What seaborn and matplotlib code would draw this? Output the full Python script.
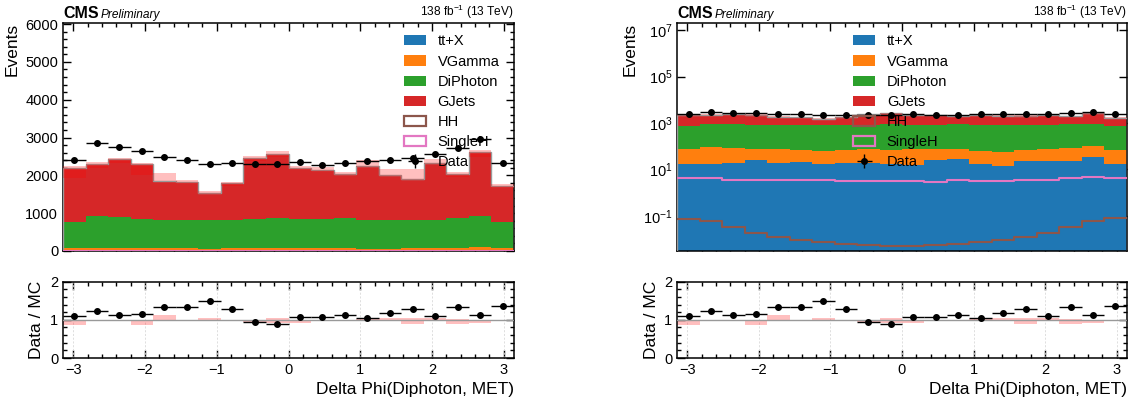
import numpy as np
import pandas as pd
import matplotlib
matplotlib.use("Agg")
import matplotlib.pyplot as plt
import seaborn as sns
from matplotlib.patches import Patch
from matplotlib.ticker import MultipleLocator, NullLocator, FixedLocator, LogFormatterSciNotation

# ---- binning: 20 bins in Delta Phi(Diphoton, MET) ----
edges = np.linspace(-np.pi, np.pi, 21)
bin_edges = [float(e) for e in edges]
centers = 0.5 * (edges[:-1] + edges[1:])

# ---- background yields per bin ----
ttx = [16.4, 17.5, 19.3, 25.0, 19.3, 20.6, 17.5, 19.3, 19.0, 18.0,
       15.3, 26.8, 28.6, 16.4, 13.9, 24.3, 24.3, 22.7, 34.9, 16.9]
vgamma = [63, 71, 69, 54, 58, 51, 46, 53, 58, 54,
          62, 50, 48, 49, 43, 48, 55, 62, 65, 55]
diphoton = [699, 830, 812, 760, 754, 759, 768, 759, 780, 794,
            780, 771, 789, 766, 774, 759, 752, 798, 836, 696]
gjets = [1415, 1371, 1530, 1466, 1026, 987, 706, 961, 1604, 1708,
         1347, 1288, 1180, 1418, 1192, 1079, 1485, 1141, 1679, 945]

# ---- signal yields per bin ----
hh = [0.077, 0.059, 0.034, 0.019, 0.012, 0.0088, 0.0072, 0.0063, 0.0059, 0.0053,
      0.0053, 0.0059, 0.0063, 0.0072, 0.009, 0.0125, 0.019, 0.035, 0.061, 0.08]
singleh = [4.4, 4.4, 3.7, 3.7, 3.7, 3.7, 3.5, 3.16, 3.16, 3.3,
           3.3, 3.0, 3.5, 3.3, 3.3, 3.5, 3.7, 4.4, 4.85, 4.4]

# ---- observed data ----
data = [2419, 2843, 2753, 2657, 2488, 2409, 2313, 2321, 2313, 2303,
        2366, 2287, 2321, 2383, 2409, 2454, 2568, 2718, 2975, 2340]

# ---- MC uncertainty band (absolute, main panel) ----
band_lo = [1932, 2207, 2340, 2004, 1860, 1765, 1500, 1720, 2382, 2488,
           2136, 2091, 2004, 2224, 1985, 1871, 2313, 1959, 2488, 1678]
band_hi = [2242, 2348, 2472, 2340, 2065, 1871, 1580, 1826, 2525, 2647,
           2242, 2224, 2091, 2419, 2181, 2171, 2445, 2091, 2684, 1784]

# ---- MC uncertainty band (relative, ratio panel) ----
rband_lo = [0.86, 0.965, 0.965, 0.86, 0.99, 0.98, 0.97, 0.98, 0.94, 0.92,
            0.92, 0.98, 0.98, 0.96, 0.97, 0.90, 0.96, 0.90, 0.92, 0.97]
rband_hi = [1.0, 1.0, 1.0, 1.0, 1.12, 1.0, 1.04, 1.0, 1.0, 1.04,
            1.0, 1.0, 1.0, 1.03, 1.06, 1.035, 1.06, 1.01, 1.0, 1.0]

processes = ["tt+X", "VGamma", "DiPhoton", "GJets"]
colors = {"tt+X": "#1f77b4", "VGamma": "#ff7f0e", "DiPhoton": "#2ca02c",
          "GJets": "#d62728", "HH": "#8c564b", "SingleH": "#e377c2"}

yields = {"tt+X": ttx, "VGamma": vgamma, "DiPhoton": diphoton, "GJets": gjets}
bkg = pd.concat([pd.DataFrame({"dphi": centers, "events": yields[p], "process": p})
                 for p in processes], ignore_index=True)
sig = {"HH": pd.DataFrame({"dphi": centers, "events": hh}),
       "SingleH": pd.DataFrame({"dphi": centers, "events": singleh})}

data_arr = np.array(data, dtype=float)
total = np.sum([np.array(yields[p], dtype=float) for p in processes], axis=0)
ratio = data_arr / total
ratio_err = np.sqrt(data_arr) / total
half_w = np.diff(edges) / 2

sns.set_style("ticks")
plt.rcParams["font.family"] = ["Liberation Sans", "DejaVu Sans"]
plt.rcParams["mathtext.fontset"] = "custom"
plt.rcParams["mathtext.rm"] = "Liberation Sans"
plt.rcParams["mathtext.it"] = "Liberation Sans:italic"
plt.rcParams["mathtext.bf"] = "Liberation Sans:bold"
plt.rcParams["axes.linewidth"] = 1.1
plt.rcParams["axes.edgecolor"] = "black"
for key in ("text.color", "axes.labelcolor", "xtick.color", "ytick.color"):
    plt.rcParams[key] = "black"

W, H = 1133, 399
fig = plt.figure(figsize=(W / 100, H / 100), dpi=100)


def fx(px):
    return px / W


def fy(px):
    return 1 - px / H


panels = [(63.0, 451.0, False), (677.3, 449.4, True)]

for left, width, logy in panels:
    ax = fig.add_axes([fx(left), fy(251), fx(width), fy(22.6) - fy(251)])
    rax = fig.add_axes([fx(left), fy(358), fx(width), fy(281.6) - fy(358)], sharex=ax)

    if logy:
        ax.set_yscale("log")

    # stacked backgrounds (last hue level sits at the bottom of the stack)
    sns.histplot(data=bkg, x="dphi", weights="events", hue="process",
                 hue_order=processes[::-1], palette=colors, bins=bin_edges,
                 multiple="stack", element="step", fill=True, alpha=1,
                 linewidth=0, legend=False, ax=ax)

    ax.stairs(total, edges, color="0.6", lw=1.0, zorder=3)
    ax.stairs(band_hi, edges, baseline=band_lo, fill=True, color="red",
              alpha=0.25, lw=0, zorder=3)

    # signals as open step lines
    for name in ("HH", "SingleH"):
        sns.histplot(data=sig[name], x="dphi", weights="events", bins=bin_edges,
                     element="step", fill=False, color=colors[name],
                     linewidth=1.5, ax=ax, zorder=4)

    dat = ax.errorbar(centers, data_arr, xerr=half_w, yerr=np.sqrt(data_arr),
                      fmt="o", color="black", ms=4.0, lw=1.0, capsize=0, zorder=5)

    ax.set_xlim(-np.pi, np.pi)
    if logy:
        ax.set_ylim(3.1e-3, 2.1e7)
        ax.yaxis.set_major_locator(FixedLocator([1e-1, 1e1, 1e3, 1e5, 1e7]))
        ax.yaxis.set_major_formatter(LogFormatterSciNotation())
        ax.yaxis.set_minor_locator(NullLocator())
    else:
        ax.set_ylim(0, 6040)
        ax.yaxis.set_major_locator(MultipleLocator(1000))
        ax.yaxis.set_minor_locator(MultipleLocator(200))

    ax.set_xlabel("")
    ax.set_ylabel("Events", fontsize=12.5, loc="top")
    ax.tick_params(axis="x", labelbottom=False)

    handles = [Patch(facecolor=colors[p], edgecolor="none") for p in processes]
    handles += [Patch(facecolor="none", edgecolor=colors["HH"], lw=1.6),
                Patch(facecolor="none", edgecolor=colors["SingleH"], lw=1.6),
                dat]
    labels = processes + ["HH", "SingleH", "Data"]
    lx = (404 - left) / width if not logy else (853.3 - left) / width
    leg = ax.legend(handles, labels, loc="upper left", bbox_to_anchor=(lx, 0.948),
                    frameon=False, fontsize=10.5, handlelength=1.5, handleheight=0.7,
                    handletextpad=0.8, labelspacing=0.42, borderpad=0, borderaxespad=0)
    leg.set_zorder(10)

    ax.text(0.0, 1.008, "CMS", transform=ax.transAxes, fontsize=11.5,
            fontweight="bold", ha="left", va="bottom")
    ax.text(0.083, 1.008, "Preliminary", transform=ax.transAxes, fontsize=8.6,
            fontstyle="italic", ha="left", va="bottom")
    ax.text(1.0, 1.008, r"138 fb$^{-1}$ (13 TeV)", transform=ax.transAxes,
            fontsize=8.6, ha="right", va="bottom")

    # ratio panel
    rax.stairs(rband_hi, edges, baseline=rband_lo, fill=True, color="red",
               alpha=0.25, lw=0, zorder=2)
    rax.axhline(1.0, color="0.6", lw=1.0, zorder=3)
    for xt in range(-3, 4):
        rax.axvline(xt, color="0.85", lw=0.6, ls=(0, (2.5, 2)), zorder=1)
    rax.errorbar(centers, ratio, xerr=half_w, yerr=ratio_err, fmt="o",
                 color="black", ms=4.0, lw=1.0, capsize=0, zorder=5)
    rax.set_ylim(0, 2)
    rax.set_xlim(-np.pi, np.pi)
    rax.yaxis.set_major_locator(MultipleLocator(1))
    rax.yaxis.set_minor_locator(MultipleLocator(0.2))
    rax.xaxis.set_major_locator(MultipleLocator(1))
    rax.xaxis.set_minor_locator(MultipleLocator(0.2))
    rax.set_ylabel("Data / MC", fontsize=12.5)
    rax.set_xlabel("Delta Phi(Diphoton, MET)", fontsize=12.5, loc="right")

    for a in (ax, rax):
        a.tick_params(which="both", direction="in", top=True, right=True,
                      labelsize=10.5, width=1.0, colors="black")
        a.tick_params(which="major", length=5.5)
        a.tick_params(which="minor", length=3)
        for s in a.spines.values():
            s.set_visible(True)
            s.set_linewidth(1.1)

fig.savefig("out.png", dpi=100)
